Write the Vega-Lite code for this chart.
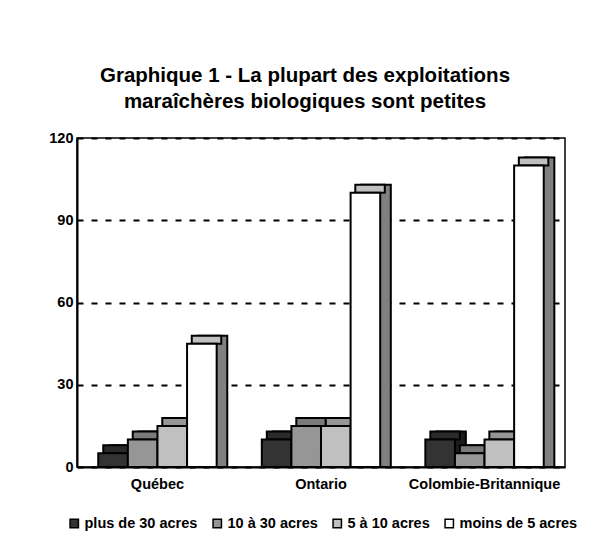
{
  "$schema": "https://vega.github.io/schema/vega-lite/v6.json",
  "width": 488,
  "height": 329,
  "autosize": {"type": "none"},
  "padding": {"left": 77, "top": 138, "right": 43, "bottom": 89},
  "background": "white",
  "title": {
    "text": ["Graphique 1 - La plupart des exploitations", "maraîchères biologiques sont petites"],
    "anchor": "middle",
    "dx": -16,
    "offset": 18,
    "fontSize": 20.5,
    "lineHeight": 26,
    "font": "Liberation Sans",
    "fontWeight": "bold",
    "color": "black"
  },
  "data": {
    "values": [
      {"region": "Québec", "taille": "plus de 30 acres", "n": 5},
      {"region": "Québec", "taille": "10 à 30 acres", "n": 10},
      {"region": "Québec", "taille": "5 à 10 acres", "n": 15},
      {"region": "Québec", "taille": "moins de 5 acres", "n": 45},
      {"region": "Ontario", "taille": "plus de 30 acres", "n": 10},
      {"region": "Ontario", "taille": "10 à 30 acres", "n": 15},
      {"region": "Ontario", "taille": "5 à 10 acres", "n": 15},
      {"region": "Ontario", "taille": "moins de 5 acres", "n": 100},
      {"region": "Colombie-Britannique", "taille": "plus de 30 acres", "n": 10},
      {"region": "Colombie-Britannique", "taille": "10 à 30 acres", "n": 5},
      {"region": "Colombie-Britannique", "taille": "5 à 10 acres", "n": 10},
      {"region": "Colombie-Britannique", "taille": "moins de 5 acres", "n": 110}
    ]
  },
  "encoding": {
    "x": {
      "field": "region",
      "type": "nominal",
      "sort": ["Québec", "Ontario", "Colombie-Britannique"],
      "scale": {"paddingInner": 0.276, "paddingOuter": 0.13},
      "axis": {"title": null, "labelAngle": 0, "ticks": false, "labelPadding": 10, "domainColor": "black", "domainWidth": 2}
    },
    "y": {
      "field": "n",
      "type": "quantitative",
      "stack": null,
      "scale": {"domain": [0, 120], "nice": false},
      "axis": {
        "title": null,
        "values": [0, 30, 60, 90, 120],
        "ticks": false,
        "labelPadding": 4,
        "domainColor": "black",
        "domainWidth": 2,
        "grid": true,
        "gridColor": "black",
        "gridWidth": 2,
        "gridDash": [6, 8]
      }
    }
  },
  "layer": [
    {
      "mark": {"type": "bar", "yOffset": -8, "y2Offset": -8, "stroke": "black", "strokeWidth": 2},
      "encoding": {
        "xOffset": {
          "field": "taille",
          "type": "nominal",
          "sort": ["plus de 30 acres", "10 à 30 acres", "5 à 10 acres", "moins de 5 acres"],
          "scale": {"paddingInner": 0, "paddingOuter": 0, "range": [11, 129]}
        },
        "color": {
          "field": "taille",
          "type": "nominal",
          "scale": {"domain": ["plus de 30 acres", "10 à 30 acres", "5 à 10 acres", "moins de 5 acres"], "range": ["#1c1c1c", "#6a6a6a", "#8c8c8c", "#808080"]},
          "legend": null
        }
      }
    },
    {
      "mark": {"type": "bar", "yOffset": -8, "stroke": "black", "strokeWidth": 2},
      "encoding": {
        "xOffset": {
          "field": "taille",
          "type": "nominal",
          "sort": ["plus de 30 acres", "10 à 30 acres", "5 à 10 acres", "moins de 5 acres"],
          "scale": {"paddingInner": 0, "paddingOuter": 0, "range": [5, 123]}
        },
        "y2": {"field": "n"},
        "color": {
          "field": "taille",
          "type": "nominal",
          "scale": {"domain": ["plus de 30 acres", "10 à 30 acres", "5 à 10 acres", "moins de 5 acres"], "range": ["#2a2a2a", "#7a7a7a", "#969696", "#c0c0c0"]},
          "legend": null
        }
      }
    },
    {
      "mark": {"type": "bar", "stroke": "black", "strokeWidth": 2},
      "encoding": {
        "xOffset": {
          "field": "taille",
          "type": "nominal",
          "sort": ["plus de 30 acres", "10 à 30 acres", "5 à 10 acres", "moins de 5 acres"],
          "scale": {"paddingInner": 0, "paddingOuter": 0}
        },
        "color": {
          "field": "taille",
          "type": "nominal",
          "scale": {"domain": ["plus de 30 acres", "10 à 30 acres", "5 à 10 acres", "moins de 5 acres"], "range": ["#333333", "#969696", "#c0c0c0", "#ffffff"]},
          "legend": {
            "title": null,
            "orient": "none",
            "direction": "horizontal",
            "legendX": -10,
            "legendY": 378,
            "padding": 0,
            "symbolType": "square",
            "symbolSize": 70,
            "symbolStrokeColor": "black",
            "symbolStrokeWidth": 1.5,
            "symbolOpacity": 1,
            "labelOffset": 3,
            "columnPadding": 12,
            "labelFont": "Liberation Sans",
            "labelFontWeight": "bold",
            "labelFontSize": 14.5,
            "labelColor": "black"
          }
        }
      }
    }
  ],
  "resolve": {"scale": {"color": "independent", "xOffset": "independent"}},
  "config": {
    "view": {"stroke": "black", "strokeWidth": 1.5},
    "axis": {
      "labelFont": "Liberation Sans",
      "labelFontWeight": "bold",
      "labelFontSize": 14.5,
      "labelColor": "black"
    }
  }
}
